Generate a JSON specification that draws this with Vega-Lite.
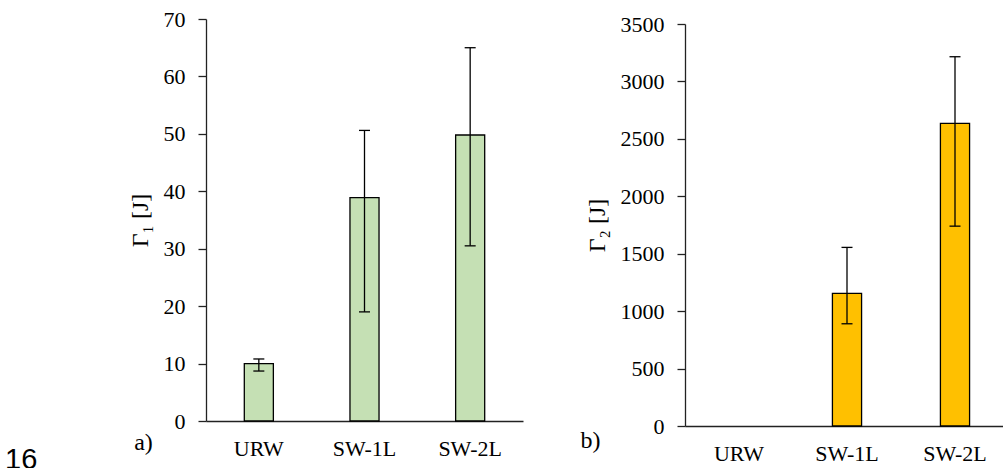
{
  "$schema": "https://vega.github.io/schema/vega-lite/v6.json",
  "background": "white",
  "autosize": {"type": "none"},
  "padding": {"left": 206, "top": 19, "right": 797, "bottom": 449},
  "datasets": {
    "g1": [
      {"sample": "URW", "value": 10.0, "lo": 8.7, "hi": 10.8},
      {"sample": "SW-1L", "value": 38.9, "lo": 19.0, "hi": 50.6},
      {"sample": "SW-2L", "value": 49.8, "lo": 30.5, "hi": 65.0}
    ],
    "g2": [
      {"sample": "URW", "value": null, "lo": null, "hi": null},
      {"sample": "SW-1L", "value": 1155, "lo": 890, "hi": 1555},
      {"sample": "SW-2L", "value": 2635, "lo": 1740, "hi": 3215}
    ]
  },
  "title": {"text": "16", "orient": "bottom", "anchor": "start", "frame": "group", "font": "Liberation Sans", "fontSize": 29, "fontWeight": "normal", "color": "#000", "dx": -201, "offset": -18},
  "spacing": 162,
  "bounds": "flush",
  "hconcat": [
    {
      "width": 317,
      "height": 402,
      "data": {"name": "g1"},
      "encoding": {
        "x": {"field": "sample", "type": "nominal", "sort": null,
          "scale": {"domain": ["URW", "SW-1L", "SW-2L"], "paddingInner": 0.725, "paddingOuter": 0.3625},
          "axis": {"title": "a)", "titleX": -63, "titleY": 21, "titleAlign": "center", "titleBaseline": "middle", "titleFont": "Liberation Serif", "titleFontSize": 24, "titleFontWeight": "normal", "titleColor": "#000",
            "ticks": false, "labelAngle": 0, "labelPadding": 17, "labelFont": "Liberation Serif", "labelFontSize": 22, "labelColor": "#000", "domainColor": "#222", "domainWidth": 1.3}}
      },
      "layer": [
        {"mark": {"type": "bar", "fill": "#c5e0b4", "stroke": "#000", "strokeWidth": 1.3},
          "encoding": {"y": {"field": "value", "type": "quantitative", "scale": {"domain": [0, 70]},
            "axis": {"title": "Γ₁ [J]", "grid": false, "values": [0, 10, 20, 30, 40, 50, 60, 70], "format": "d", "tickSize": 8, "tickColor": "#222", "tickWidth": 1.3, "domainColor": "#222", "domainWidth": 1.3, "labelFont": "Liberation Serif", "labelFontSize": 22, "labelColor": "#000", "labelPadding": 13, "titleFont": "Liberation Serif", "titleFontSize": 24, "titleFontWeight": "normal", "titleColor": "#000", "titlePadding": 11}}}},
        {"mark": {"type": "rule", "color": "#000", "strokeWidth": 1.3},
          "encoding": {"y": {"field": "lo", "type": "quantitative"}, "y2": {"field": "hi"}}},
        {"mark": {"type": "tick", "color": "#000", "size": 11, "thickness": 1.3, "opacity": 1},
          "encoding": {"y": {"field": "lo", "type": "quantitative"}}},
        {"mark": {"type": "tick", "color": "#000", "size": 11, "thickness": 1.3, "opacity": 1},
          "encoding": {"y": {"field": "hi", "type": "quantitative"}}}
      ]
    },
    {
      "width": 324,
      "height": 407,
      "data": {"name": "g2"},
      "encoding": {
        "x": {"field": "sample", "type": "nominal", "sort": null,
          "scale": {"domain": ["URW", "SW-1L", "SW-2L"], "paddingInner": 0.73, "paddingOuter": 0.365},
          "axis": {"title": "b)", "titleX": -95, "titleY": 14, "titleAlign": "center", "titleBaseline": "middle", "titleFont": "Liberation Serif", "titleFontSize": 24, "titleFontWeight": "normal", "titleColor": "#000",
            "ticks": false, "labelAngle": 0, "labelPadding": 17, "labelFont": "Liberation Serif", "labelFontSize": 22, "labelColor": "#000", "domainColor": "#222", "domainWidth": 1.3}}
      },
      "layer": [
        {"mark": {"type": "bar", "fill": "#ffc000", "stroke": "#000", "strokeWidth": 1.3},
          "encoding": {"y": {"field": "value", "type": "quantitative", "scale": {"domain": [0, 3500], "range": [407, 5]},
            "axis": {"title": "Γ₂ [J]", "grid": false, "values": [0, 500, 1000, 1500, 2000, 2500, 3000, 3500], "format": "d", "tickSize": 8, "tickColor": "#222", "tickWidth": 1.3, "domainColor": "#222", "domainWidth": 1.3, "labelFont": "Liberation Serif", "labelFontSize": 22, "labelColor": "#000", "labelPadding": 13, "titleFont": "Liberation Serif", "titleFontSize": 24, "titleFontWeight": "normal", "titleColor": "#000", "titlePadding": 11}}}},
        {"mark": {"type": "rule", "color": "#000", "strokeWidth": 1.3},
          "encoding": {"y": {"field": "lo", "type": "quantitative"}, "y2": {"field": "hi"}}},
        {"mark": {"type": "tick", "color": "#000", "size": 11, "thickness": 1.3, "opacity": 1},
          "encoding": {"y": {"field": "lo", "type": "quantitative"}}},
        {"mark": {"type": "tick", "color": "#000", "size": 11, "thickness": 1.3, "opacity": 1},
          "encoding": {"y": {"field": "hi", "type": "quantitative"}}}
      ]
    }
  ],
  "config": {"view": {"stroke": null}}
}
